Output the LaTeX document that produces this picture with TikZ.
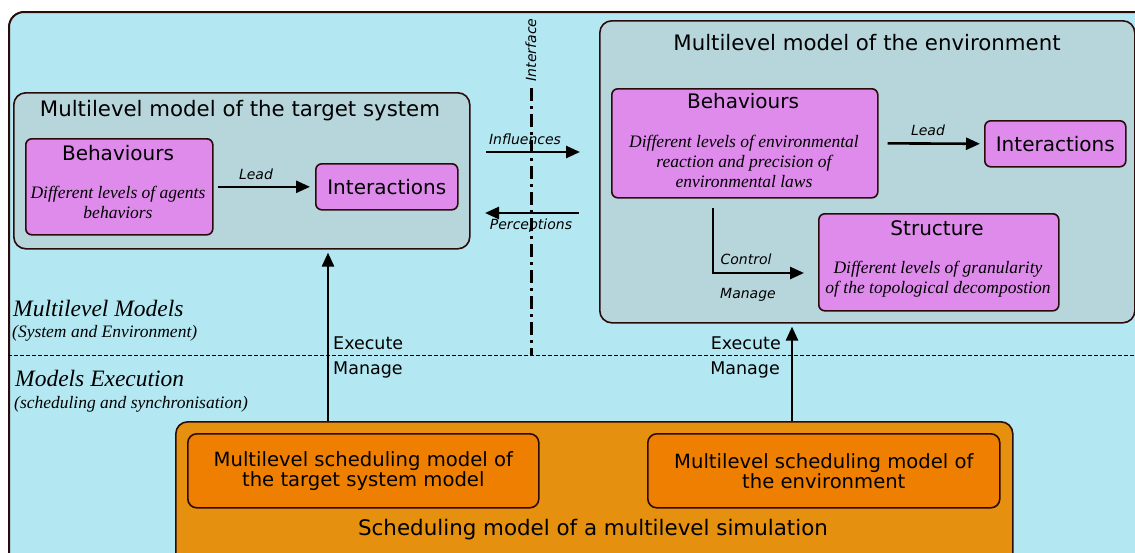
\documentclass[tikz,border=0pt]{standalone}
\usepackage{fontspec}
\setsansfont{DejaVu Sans}
\newfontfamily\scriptfam{Liberation Serif}
\usetikzlibrary{arrows.meta}
\definecolor{bgblue}{HTML}{B3E8F2}
\definecolor{modelfill}{HTML}{B7D6DC}
\definecolor{pinkfill}{HTML}{DE8BEC}
\definecolor{orangeout}{HTML}{E6900F}
\definecolor{orangein}{HTML}{EE7F00}
\definecolor{edge}{HTML}{2B0A0A}
\tikzset{
  box/.style={draw=edge, line width=1.6pt, anchor=north west, inner sep=0pt},
  modelbox/.style={box, fill=modelfill, rounded corners=12pt},
  pinkbox/.style={box, fill=pinkfill, rounded corners=6pt},
  orbox/.style={box, fill=orangeout, rounded corners=12pt},
  orinbox/.style={box, fill=orangein, rounded corners=9pt},
  bigtxt/.style={font=\sffamily\fontsize{20}{24}\selectfont, inner sep=0pt, align=center},
  titletxt/.style={font=\sffamily\fontsize{21.3}{24}\selectfont, inner sep=0pt},
  schedtxtstyle/.style={font=\sffamily\fontsize{19.6}{20}\selectfont, inner sep=0pt, align=center},
  midtxt/.style={font=\sffamily\fontsize{17.5}{21}\selectfont, inner sep=0pt},
  smalltxt/.style={font=\sffamily\itshape\fontsize{14}{16}\selectfont, inner sep=0pt},
  scripttxt/.style={font=\scriptfam\itshape\fontsize{17.5}{20}\selectfont, align=center, inner sep=0pt},
  sidebig/.style={font=\scriptfam\itshape\fontsize{23.5}{26}\selectfont, inner sep=0pt, anchor=west},
  sidesmall/.style={font=\scriptfam\itshape\fontsize{17.5}{20}\selectfont, inner sep=0pt, anchor=west},
  arr/.style={line width=2.6pt, -{Triangle[length=14pt,width=12pt]}},
  ifline/.style={line width=3pt, dash pattern=on 13pt off 5pt on 3pt off 5pt},
  sepline/.style={line width=1pt, dash pattern=on 4pt off 2pt},
}
\begin{document}
\begin{tikzpicture}[x=1pt,y=-1pt]
\useasboundingbox (0,0) rectangle (1135,552);
\clip (0,0) rectangle (1135,552);
% outer frame
\node[box, fill=bgblue, line width=2pt, rounded corners=15pt, minimum width=1160, minimum height=580] (frame) at (8,11) {};
% separator
\coordinate (dL) at (8,355);
\coordinate (dR) at (1135,355);
\draw[sepline] (dL) -- (dR);

% target system model
\node[modelbox, minimum width=456, minimum height=156] (tsys) at (13,92) {};
\node[titletxt] (tsystitle) at (240,111) {Multilevel model of the target system};
\node[pinkbox, minimum width=187, minimum height=96] (tbeh) at (25,138) {};
\node[bigtxt] (tbehtitle) at (118,153) {Behaviours};
\node[scripttxt] (tbehtxt) at (118,202) {Different levels of agents\\behaviors};
\node[pinkbox, minimum width=142, minimum height=46] (tint) at (315,163) {};
\node[bigtxt] (tinttxt) at (tint.center) {Interactions};
\draw[arr, shorten <=4pt, shorten >=5pt] (tbeh.east) -- (tint.west);
\node[smalltxt] (tlead) at (256,174) {Lead};

% interface
\coordinate (ifTop) at (531,88);
\coordinate (ifBot) at (531,355);
\draw[ifline] (ifTop) -- (ifBot);
\node[smalltxt, rotate=90] (iftxt) at (531,50) {Interface};
\coordinate (infS) at (486,152);
\coordinate (infE) at (580,152);
\draw[arr] (infS) -- (infE);
\node[smalltxt] (inftxt) at (525,139) {Influences};
\coordinate (perS) at (579,213);
\coordinate (perE) at (485,213);
\draw[arr] (perS) -- (perE);
\node[smalltxt] (pertxt) at (531,226) {Perceptions};

% environment model
\node[modelbox, minimum width=535, minimum height=302] (env) at (599,20) {};
\node[titletxt] (envtitle) at (867,43) {Multilevel model of the environment};
\node[pinkbox, minimum width=266, minimum height=109] (ebeh) at (611,88) {};
\node[bigtxt] (ebehtitle) at (743,101) {Behaviours};
\node[scripttxt] (ebehtxt) at (744,161) {Different levels of environmental\\reaction and precision of\\environmental laws};
\node[pinkbox, minimum width=141, minimum height=46] (eint) at (984,120) {};
\node[bigtxt] (einttxt) at (eint.center) {Interactions};
\draw[arr, shorten <=9pt, shorten >=4pt] (ebeh.east) -- (eint.west);
\node[smalltxt] (elead) at (928,130) {Lead};
\node[pinkbox, minimum width=240, minimum height=97] (estr) at (818,213) {};
\node[bigtxt] (estrtitle) at (937,228) {Structure};
\node[scripttxt] (estrtxt) at (938,279) {Different levels of granularity\\of the topological decompostion};
\coordinate (ctlS) at (713,208);
\coordinate (ctlE) at (804,273);
\draw[arr] (ctlS) |- (ctlE);
\node[smalltxt] (ctltxt) at (746,259) {Control};
\node[smalltxt] (mantxt) at (748,295) {Manage};

% side labels
\node[sidebig] (mm) at (13,308) {Multilevel Models};
\node[sidesmall] (mmsub) at (12,333) {(System and Environment)};
\node[sidebig] (me) at (15,378) {Models Execution};
\node[sidesmall] (mesub) at (14,404) {(scheduling and synchronisation)};

% scheduling
\node[orbox, minimum width=837, minimum height=150] (sched) at (175,421) {};
\node[orinbox, minimum width=351, minimum height=74] (schedA) at (187,433) {};
\node[schedtxtstyle] (schedAtxt) at (schedA.center) {Multilevel scheduling model of\\the target system model};
\node[orinbox, minimum width=352, minimum height=74] (schedB) at (647,433) {};
\node[schedtxtstyle] (schedBtxt) at (schedB.center) {Multilevel scheduling model of\\the environment};
\node[titletxt, font=\sffamily\fontsize{21.4}{24}\selectfont] (schedtxt) at (593,530) {Scheduling model of a multilevel simulation};

% execute arrows
\coordinate (exA) at (328,421);
\draw[arr, shorten >=3pt] (exA) -- (exA |- tsys.south);
\node[midtxt, anchor=west] (exAt) at (333,343) {Execute};
\node[midtxt, anchor=west] (exAm) at (333,370) {Manage};
\coordinate (exB) at (792,421);
\draw[arr, shorten >=3pt] (exB) -- (exB |- env.south);
\node[midtxt, anchor=east] (exBt) at (781,343) {Execute};
\node[midtxt, anchor=east] (exBm) at (780,370) {Manage};
\end{tikzpicture}
\end{document}
